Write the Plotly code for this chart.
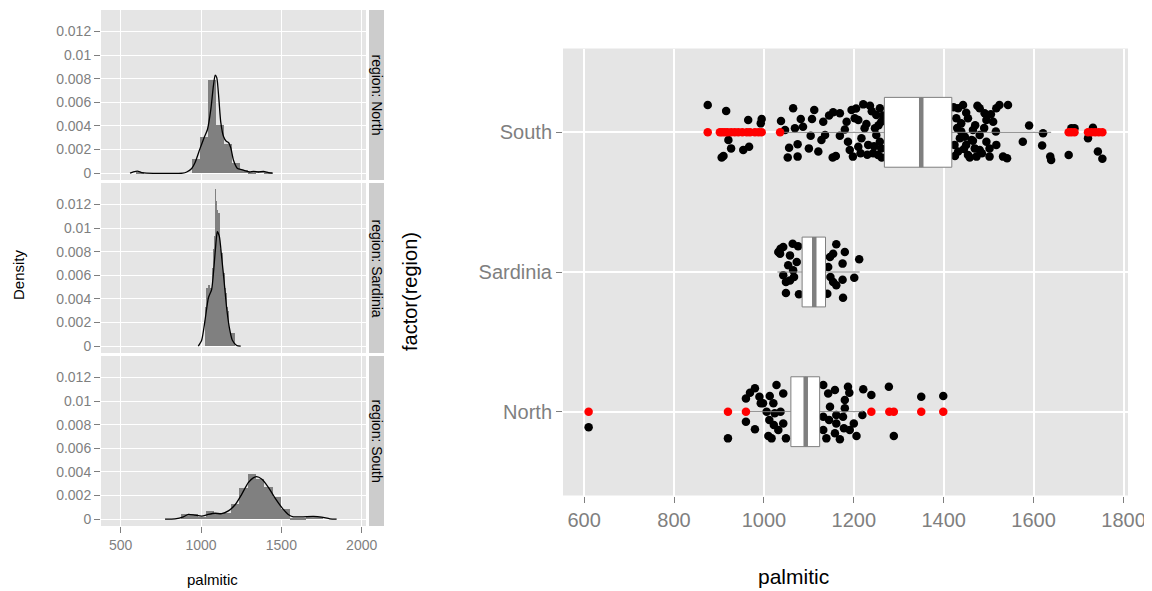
import plotly.graph_objects as go

# page has an 8px body margin; coordinates below are offset by it
FW, FH = 1152, 591
OFF = 8

# ---------------- data ----------------
regions = ["North", "Sardinia", "South"]
region_pos = [1, 2, 3]

# histogram bins (left edge, density) read from the facets
north_bin_start = [594, 944, 994, 1044, 1094, 1144, 1194, 1244, 1294, 1344, 1394]
north_bin_density = [0.00013, 0.0012, 0.0031, 0.0079, 0.0041, 0.0025, 0.0009, 0.0003, 0.0001, 0.0002, 0.0001]
north_binwidth = 50

sardinia_bin_start = [1025.0, 1031.2, 1037.4, 1043.6, 1049.8, 1056.0, 1062.2, 1068.4, 1074.6, 1080.8,
                      1087.0, 1093.2, 1099.4, 1105.6, 1111.8, 1118.0, 1124.2, 1130.4, 1136.6, 1142.8,
                      1149.0, 1155.2, 1161.4, 1167.6, 1173.8, 1180.0, 1186.2, 1192.4, 1198.6, 1204.8]
sardinia_bin_density = [0.0033, 0.0049, 0.0049, 0.0052, 0.0049, 0.0033, 0.0049, 0.0066, 0.0082, 0.0093,
                        0.0133, 0.0123, 0.0115, 0.0050, 0.0113, 0.0082, 0.0066, 0.0079, 0.0062, 0.0062,
                        0.0049, 0.0045, 0.0033, 0.0030, 0.0016, 0.0003, 0.0011, 0.0003, 0.0011, 0.0011]
sardinia_binwidth = 6.2

south_bin_start = [875, 927, 979, 1031, 1083, 1135, 1187, 1239, 1291, 1343, 1395, 1447, 1499, 1551, 1603, 1655, 1707]
south_bin_density = [0.0004, 0.0004, 0.0002, 0.0007, 0.0005, 0.0005, 0.0013, 0.0026, 0.0038, 0.0034, 0.0027,
                     0.0019, 0.0009, 0.0001, 0.0001, 0.0002, 0.0002]
south_binwidth = 52

# density curves
north_dens_x = [558, 579, 604, 631, 662, 886, 911, 942, 963, 994, 1019, 1040, 1061, 1077, 1088, 1098, 1111,
                1123, 1140, 1157, 1171, 1186, 1202, 1227, 1254, 1275, 1302, 1327, 1358, 1389, 1420, 1447]
north_dens_y = [0, 0.0001, 0.00017, 0.00005, 0, 0, 0.0001, 0.0004, 0.0009, 0.0021, 0.003, 0.0037, 0.0054,
                0.0074, 0.0083, 0.0081, 0.0063, 0.0043, 0.0031, 0.0027, 0.0026, 0.0021, 0.0011, 0.0004,
                0.0003, 0.0002, 0.0001, 0.00015, 0.0001, 0.00015, 0.00005, 0]

sardinia_dens_x = [983, 1004, 1025, 1046, 1066, 1081, 1093, 1101, 1114, 1128, 1143, 1159, 1176, 1195, 1222, 1247]
sardinia_dens_y = [0, 0.0005, 0.0022, 0.0041, 0.0048, 0.0068, 0.0088, 0.0097, 0.0093, 0.0076, 0.0056, 0.0033,
                   0.0016, 0.0005, 0.00006, 0]

south_dens_x = [776, 838, 890, 921, 962, 1004, 1045, 1087, 1128, 1170, 1211, 1253, 1294, 1325, 1346, 1377,
                1419, 1460, 1502, 1543, 1574, 1636, 1699, 1751, 1802, 1844]
south_dens_y = [0, 0.00003, 0.0002, 0.0004, 0.00034, 0.00026, 0.0004, 0.0005, 0.00046, 0.0007, 0.0012, 0.0021,
                0.0031, 0.0035, 0.0036, 0.0034, 0.0027, 0.0018, 0.001, 0.0004, 0.0002, 0.0002, 0.00023,
                0.00017, 0.00003, 0]

# boxplot statistics (North, Sardinia, South)
box_q1 = [1060, 1085, 1268]
box_median = [1093, 1112, 1350]
box_q3 = [1124, 1137, 1418]
box_lower = [965, 1030, 1041]
box_upper = [1221, 1213, 1639]

# outliers
north_outliers = [610, 920, 960, 1239, 1279, 1289, 1350, 1399]
sardinia_outliers = []
south_outliers = [875, 902, 907, 913, 919, 927, 935, 943, 952, 962, 969, 980, 988, 995, 1036,
                  1678, 1684, 1691, 1721, 1729, 1737, 1745, 1753]

# jittered points (palmitic value, vertical jitter)
north_pts = [610, 920, 960, 969, 980, 990, 993, 960, 980, 1012, 1010, 1017, 1013, 1028, 1021, 1022, 1043,
             1037, 1032, 1049, 1043, 1006, 1132, 1143, 1158, 1187, 1190, 1180, 1147, 1132, 1145, 1161, 1180,
             1221, 1239, 1278, 1350, 1399, 1219, 1200, 1178, 1158, 1169, 1206, 1289, 1161, 1132, 1139, 1024,
             998, 1176, 1191]
north_jit = [-0.112, -0.191, 0.095, 0.136, 0.167, 0.107, 0.06, -0.072, -0.126, -0.06, -0.174, -0.191, 0.112,
             0.191, 0.06, -0.095, 0.131, 0, -0.131, -0.191, -0.084, 0, 0.191, 0.131, 0.155, 0.179, 0.136,
             0.084, 0.036, -0.036, -0.06, -0.024, 0.024, 0.16, 0.119, 0.179, 0.107, 0.112, -0.024, -0.084,
             -0.119, -0.155, -0.198, -0.174, -0.174, -0.084, -0.131, -0.191, -0.012, 0.06, -0.036, -0.131]

sardinia_pts = [1032, 1043, 1037, 1064, 1076, 1054, 1073, 1065, 1043, 1049, 1049, 1078, 1067, 1058, 1161,
                1154, 1180, 1147, 1175, 1212, 1143, 1154, 1175, 1201, 1161, 1176, 1141, 1148, 1036, 1058]
sardinia_jit = [0.143, 0.179, 0.167, 0.203, 0.184, 0.048, 0.072, 0.012, -0.024, -0.072, -0.15, -0.16,
                -0.036, -0.06, 0.198, 0.131, 0.143, 0.107, 0.06, 0.091, 0.036, -0.072, -0.055, -0.041,
                -0.095, -0.184, -0.155, -0.036, 0.131, 0.119]

south_pts = [875, 916, 965, 995, 993, 921, 927, 910, 906, 954, 967, 1038, 1065, 1082, 1087, 1069, 1107, 1112,
             1132, 1154, 1169, 1184, 1195, 1210, 1221, 1236, 1250, 1258, 1261, 1056, 1075, 1053, 1075, 1104,
             1100, 1121, 1128, 1136, 1153, 1169, 1187, 1198, 1210, 1217, 1224, 1232, 1243, 1250, 1254, 1258,
             1202, 1191, 1261, 1247, 1047,
             1240, 1245, 1255, 1262, 1265, 1230, 1228, 1215, 1205, 1180, 1160, 1145,
             1432, 1443, 1428, 1439, 1454, 1480, 1491, 1495, 1510, 1517, 1524, 1543, 1516, 1436, 1450, 1462,
             1432, 1454, 1473, 1480, 1502, 1517, 1532, 1541, 1480, 1495, 1590, 1576, 1621, 1619, 1637, 1639,
             1678, 1691, 1684, 1732, 1721, 1743, 1753, 1439, 1465, 1447, 1469, 1424, 1502,
             1422, 1425, 1430, 1445, 1450, 1458, 1470, 1485, 1490, 1505, 1465, 1475]
south_jit = [0.196, 0.153, 0.088, 0.095, 0.064, -0.055, -0.115, -0.17, -0.18, -0.126, -0.103, 0.081, 0.172,
             0.095, 0.04, 0.029, 0.095, 0.16, 0.076, 0.143, 0.136, 0.076, 0.16, 0.088, 0.2, 0.19, 0.124,
             0.172, 0.076, -0.11, -0.086, -0.18, -0.174, -0.024, -0.115, -0.138, -0.055, -0.019, -0.18,
             -0.024, -0.067, -0.174, -0.103, -0.043, 0.029, -0.09, -0.15, -0.02, -0.162, -0.067, 0.1,
             -0.126, -0.115, 0.029, 0.017,
             0.15, -0.1, 0.05, -0.18, 0.12, -0.16, 0.06, -0.15, 0.17, 0.02, -0.17, 0.12,
             0.172, 0.196, 0.1, 0.064, 0.1, 0.172, 0.136, 0.088, 0.076, 0.172, 0.196, 0.196, 0.005, -0.043,
             -0.09, -0.055, -0.138, -0.162, -0.174, -0.126, -0.174, -0.09, -0.174, -0.186, -0.019, -0.067,
             0.048, -0.067, -0.007, -0.095, -0.174, -0.198, -0.162, 0.029, 0.029, 0.033, -0.043, -0.138,
             -0.19, 0.005, 0.017, -0.031, -0.115, -0.09, -0.115,
             0.18, -0.17, 0.03, -0.12, 0.14, -0.18, 0.05, -0.15, 0.03, 0.13, -0.06, 0.19]

left_y_ticks = [0, 0.002, 0.004, 0.006, 0.008, 0.01, 0.012]
left_y_ticktext = ["0", "0.002", "0.004", "0.006", "0.008", "0.01", "0.012"]
left_x_ticks = [500, 1000, 1500, 2000]
right_x_ticks = [600, 800, 1000, 1200, 1400, 1600, 1800]

# ---------------- styling ----------------
FONT = "Liberation Sans, Arial, Helvetica, sans-serif"
BG = "#E5E5E5"
GREY = "#7F7F7F"
BAR = "#808080"

def px_x(p):
    return (p - OFF) / FW

def px_y(p):
    return 1 - (p - OFF) / FH

fig = go.Figure()

hist_sets = [
    (north_bin_start, north_bin_density, north_binwidth, north_dens_x, north_dens_y),
    (sardinia_bin_start, sardinia_bin_density, sardinia_binwidth, sardinia_dens_x, sardinia_dens_y),
    (south_bin_start, south_bin_density, south_binwidth, south_dens_x, south_dens_y),
]
for i, (bs, bd, bw, dx, dy) in enumerate(hist_sets, start=1):
    xa = "x" if i == 1 else f"x{i}"
    ya = "y" if i == 1 else f"y{i}"
    fig.add_trace(go.Bar(x=bs, y=bd, width=bw, offset=0, marker=dict(color=BAR, line=dict(width=0)),
                         xaxis=xa, yaxis=ya, showlegend=False, hoverinfo="skip"))
    fig.add_trace(go.Scatter(x=dx, y=dy, mode="lines",
                             line=dict(color="black", width=1.3, shape="spline", smoothing=0.6),
                             xaxis=xa, yaxis=ya, showlegend=False, hoverinfo="skip"))

# jittered points on right panel (x4/y4)
pts_sets = [(north_pts, north_jit), (sardinia_pts, sardinia_jit), (south_pts, south_jit)]
for pos, (pxs, jt) in zip(region_pos, pts_sets):
    fig.add_trace(go.Scatter(x=pxs, y=[pos + j for j in jt], mode="markers",
                             marker=dict(color="black", size=8.5, line=dict(width=0)),
                             xaxis="x4", yaxis="y4", showlegend=False, hoverinfo="skip"))

# boxplots on overlay axes (x5/y5) so they sit above the jittered points
for k, pos in enumerate(region_pos):
    fig.add_trace(go.Box(y=[pos], q1=[box_q1[k]], median=[box_median[k]], q3=[box_q3[k]],
                         lowerfence=[box_lower[k]], upperfence=[box_upper[k]],
                         orientation="h", width=0.5, whiskerwidth=0, boxpoints=False,
                         fillcolor="white", line=dict(color=GREY, width=1),
                         xaxis="x5", yaxis="y5", showlegend=False, hoverinfo="skip"))
    fig.add_trace(go.Scatter(x=[box_median[k], box_median[k]], y=[pos - 0.25, pos + 0.25], mode="lines",
                             line=dict(color=GREY, width=4.5), xaxis="x5", yaxis="y5",
                             showlegend=False, hoverinfo="skip"))

out_sets = [north_outliers, sardinia_outliers, south_outliers]
for pos, outs in zip(region_pos, out_sets):
    if outs:
        fig.add_trace(go.Scatter(x=outs, y=[pos] * len(outs), mode="markers",
                                 marker=dict(color="#FF0000", size=8.5, line=dict(width=0)),
                                 xaxis="x5", yaxis="y5", showlegend=False, hoverinfo="skip"))

left_dom_x = [px_x(101), px_x(366)]
panel_px = [(10, 180), (183, 353), (356, 526)]
left_xrange = [377.4, 2026.8]
left_yrange = [-0.00058, 0.01383]

layout = dict(
    width=FW, height=FH, autosize=False, paper_bgcolor="white", plot_bgcolor=BG,
    margin=dict(l=0, r=0, t=0, b=0, pad=0), font=dict(family=FONT), showlegend=False, bargap=0,
)
for i, (top, bot) in enumerate(panel_px, start=1):
    xk = "xaxis" if i == 1 else f"xaxis{i}"
    yk = "yaxis" if i == 1 else f"yaxis{i}"
    anchor_y = "y" if i == 1 else f"y{i}"
    anchor_x = "x" if i == 1 else f"x{i}"
    layout[xk] = dict(domain=left_dom_x, range=left_xrange, anchor=anchor_y, automargin=False,
                      tickvals=left_x_ticks, showgrid=True, gridcolor="white", gridwidth=1.3,
                      zeroline=False, showline=False,
                      showticklabels=(i == 3), ticks="outside" if i == 3 else "",
                      ticklen=6, tickcolor=GREY, tickwidth=1,
                      tickfont=dict(size=14, color=GREY, family=FONT))
    layout[yk] = dict(domain=[px_y(bot), px_y(top)], range=left_yrange, anchor=anchor_x, automargin=False,
                      tickvals=left_y_ticks, ticktext=left_y_ticktext, showgrid=True,
                      gridcolor="white", gridwidth=1.3, zeroline=False, showline=False,
                      ticks="outside", ticklen=6, tickcolor=GREY, tickwidth=1,
                      tickfont=dict(size=14, color=GREY, family=FONT))

right_dom_x = [px_x(563), px_x(1128)]
right_dom_y = [px_y(495.5), px_y(48.5)]
right_xrange = [553, 1810]
right_yrange = [0.4, 3.6]
layout["xaxis4"] = dict(domain=right_dom_x, range=right_xrange, anchor="y4", tickvals=right_x_ticks,
                        automargin=False, ticklabeloverflow="allow",
                        showgrid=True, gridcolor="white", gridwidth=1.6, zeroline=False, showline=False,
                        ticks="outside", ticklen=6, tickcolor=GREY, tickwidth=1,
                        tickfont=dict(size=20, color=GREY, family=FONT))
layout["yaxis4"] = dict(domain=right_dom_y, range=right_yrange, anchor="x4", tickvals=region_pos,
                        automargin=False,
                        ticktext=regions, showgrid=True, gridcolor="white", gridwidth=1.6,
                        zeroline=False, showline=False, ticks="outside", ticklen=6, tickcolor=GREY,
                        tickwidth=1, tickfont=dict(size=20, color=GREY, family=FONT))
layout["xaxis5"] = dict(domain=right_dom_x, range=right_xrange, overlaying="x4", anchor="y5",
                        automargin=False,
                        showgrid=False, zeroline=False, showticklabels=False, ticks="", showline=False)
layout["yaxis5"] = dict(domain=right_dom_y, range=right_yrange, overlaying="y4", anchor="x5",
                        automargin=False,
                        showgrid=False, zeroline=False, showticklabels=False, ticks="", showline=False)

shapes = []
annotations = []
strip_labels = ["region: North", "region: Sardinia", "region: South"]
for (top, bot), lab in zip(panel_px, strip_labels):
    shapes.append(dict(type="rect", xref="paper", yref="paper", x0=px_x(369), x1=px_x(384),
                       y0=px_y(bot), y1=px_y(top), fillcolor="#CCCCCC", line=dict(width=0), layer="below"))
    annotations.append(dict(xref="paper", yref="paper", x=px_x(376.5), y=px_y((top + bot) / 2), text=lab,
                            textangle=90, showarrow=False, font=dict(size=14, color="black", family=FONT),
                            xanchor="center", yanchor="middle"))

annotations += [
    dict(xref="paper", yref="paper", x=px_x(18), y=px_y(275), text="Density", textangle=-90, showarrow=False,
         font=dict(size=15, color="black", family=FONT), xanchor="center", yanchor="middle"),
    dict(xref="paper", yref="paper", x=px_x(212), y=px_y(579), text="palmitic", showarrow=False,
         font=dict(size=15, color="black", family=FONT), xanchor="center", yanchor="middle"),
    dict(xref="paper", yref="paper", x=px_x(410), y=px_y(292), text="factor(region)", textangle=-90,
         showarrow=False, font=dict(size=20, color="black", family=FONT), xanchor="center", yanchor="middle"),
    dict(xref="paper", yref="paper", x=px_x(793), y=px_y(576), text="palmitic", showarrow=False,
         font=dict(size=21, color="black", family=FONT), xanchor="center", yanchor="middle"),
]
layout["shapes"] = shapes
layout["annotations"] = annotations

fig.update_layout(**layout)
fig.write_html("out.html")
